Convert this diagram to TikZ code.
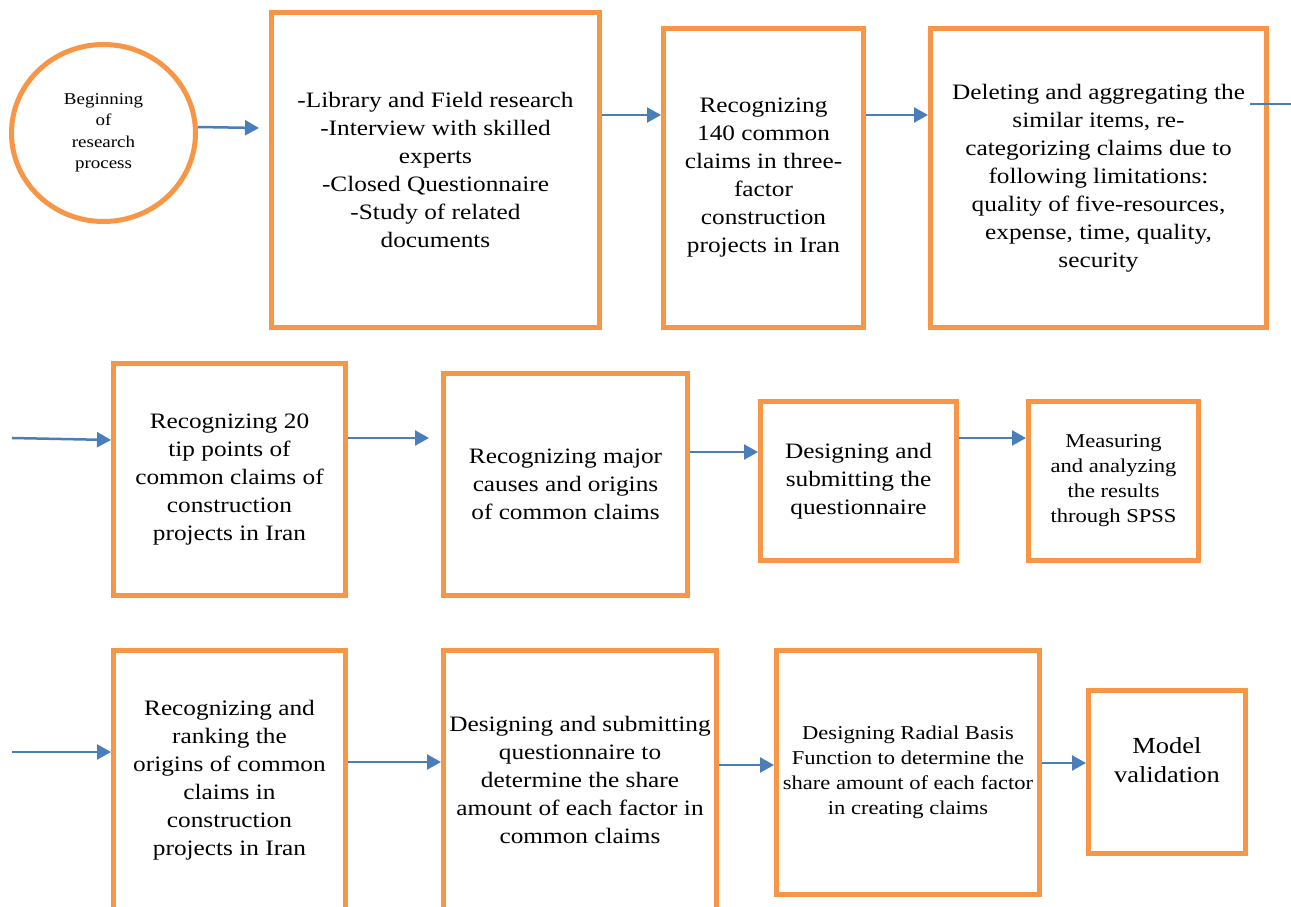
\documentclass[tikz,border=0pt]{standalone}
\usepackage{fontspec}
\setmainfont{Liberation Serif}[FakeStretch=1.15]
\usetikzlibrary{arrows.meta,shapes.geometric}
\definecolor{boxorange}{HTML}{F79646}
\definecolor{arrowblue}{HTML}{4A7EBB}
\begin{document}
\begin{tikzpicture}[x=1pt,y=-1pt,
  box/.style={draw=boxorange, line width=5pt, fill=white, inner sep=0pt, align=center,
              font=\fontsize{22}{28}\selectfont},
  midtext/.style={font=\fontsize{19.6}{25}\selectfont},
  bigtext/.style={font=\fontsize{23}{29}\selectfont},
  conn/.style={draw=arrowblue, line width=2.5pt, -{Triangle[length=14pt,width=15pt]}},
  plainconn/.style={draw=arrowblue, line width=2.5pt}]
\useasboundingbox (0,0) rectangle (1291,907);
\fill[white] (0,0) rectangle (1291,907);

% row 1
\node[ellipse, draw=boxorange, line width=5pt, minimum width=184pt, minimum height=177pt,
      inner sep=0pt, align=center, font=\fontsize{16.5}{21.5}\selectfont] (c) at (103.5,133)
  {Beginning\\of\\research\\process};
\node[box, minimum width=328pt, minimum height=315pt] (b1) at (435.5,170)
  {-Library and Field research\\-Interview with skilled\\experts\\-Closed Questionnaire\\-Study of related\\documents};
\node[box, minimum width=200pt, minimum height=299pt] (b2) at (763.5,178)
  {Recognizing\\140 common\\claims in three-\\factor\\construction\\projects in Iran};
\node[box, minimum width=336pt, minimum height=299pt] (b3) at (1098.5,178)
  {Deleting and aggregating the\\similar items, re-\\categorizing claims due to\\following limitations:\\quality of five-resources,\\expense, time, quality,\\security};

% row 2
\node[box, minimum width=232pt, minimum height=232pt] (b4) at (229.5,479.5)
  {Recognizing 20\\tip points of\\common claims of\\construction\\projects in Iran};
\node[box, minimum width=244pt, minimum height=222pt] (b5) at (565.5,484.5)
  {Recognizing major\\causes and origins\\of common claims};
\node[box, minimum width=196pt, minimum height=159pt] (b6) at (858.5,481)
  {Designing and\\submitting the\\questionnaire};
\node[box, midtext, minimum width=170pt, minimum height=159pt] (b7) at (1113.5,481)
  {Measuring\\and analyzing\\the results\\through SPSS};

% row 3
\node[box, minimum width=232pt, minimum height=259pt] (b8) at (229.5,780)
  {Recognizing and\\ranking the\\origins of common\\claims in\\construction\\projects in Iran};
\node[box, minimum width=273pt, minimum height=259pt] (b9) at (580,780)
  {Designing and submitting\\questionnaire to\\determine the share\\amount of each factor in\\common claims};
\node[box, midtext, minimum width=263pt, minimum height=244pt] (b10) at (908,772.5)
  {Designing Radial Basis\\Function to determine the\\share amount of each factor\\in creating claims};
\node[box, minimum width=157pt, minimum height=163pt] (b11) at (1167,772) {};
\node[bigtext, align=center, inner sep=0pt] (t11) at ([yshift=12pt]b11.center) {Model\\validation};

% free ends
\coordinate (in4) at (12,438);
\coordinate (in8) at (12,752);
\coordinate (s0) at ([xshift=-19pt,yshift=74pt]b3.east);
\coordinate (s1) at (1291,104);

% connectors
\draw[conn] ([yshift=6pt]c.east) -- ([xshift=-10pt,yshift=42pt]b1.west);
\draw[conn] ([yshift=55pt]b1.east) -- ([yshift=63pt]b2.west);
\draw[conn] ([yshift=63pt]b2.east) -- ([yshift=63pt]b3.west);
\draw[plainconn] (s0) -- (s1);
\draw[conn] (in4) -- ([yshift=39.5pt]b4.west);
\draw[conn] ([yshift=41.5pt]b4.east) -- ([xshift=-12pt,yshift=46.5pt]b5.west);
\draw[conn] ([yshift=32.5pt]b5.east) -- ([yshift=29pt]b6.west);
\draw[conn] ([yshift=43pt]b6.east) -- ([yshift=43pt]b7.west);
\draw[conn] (in8) -- ([yshift=28pt]b8.west);
\draw[conn] ([yshift=18pt]b8.east) -- ([yshift=18pt]b9.west);
\draw[conn] ([yshift=15pt]b9.east) -- ([yshift=7.5pt]b10.west);
\draw[conn] ([yshift=9.5pt]b10.east) -- ([yshift=9pt]b11.west);
\end{tikzpicture}
\end{document}
